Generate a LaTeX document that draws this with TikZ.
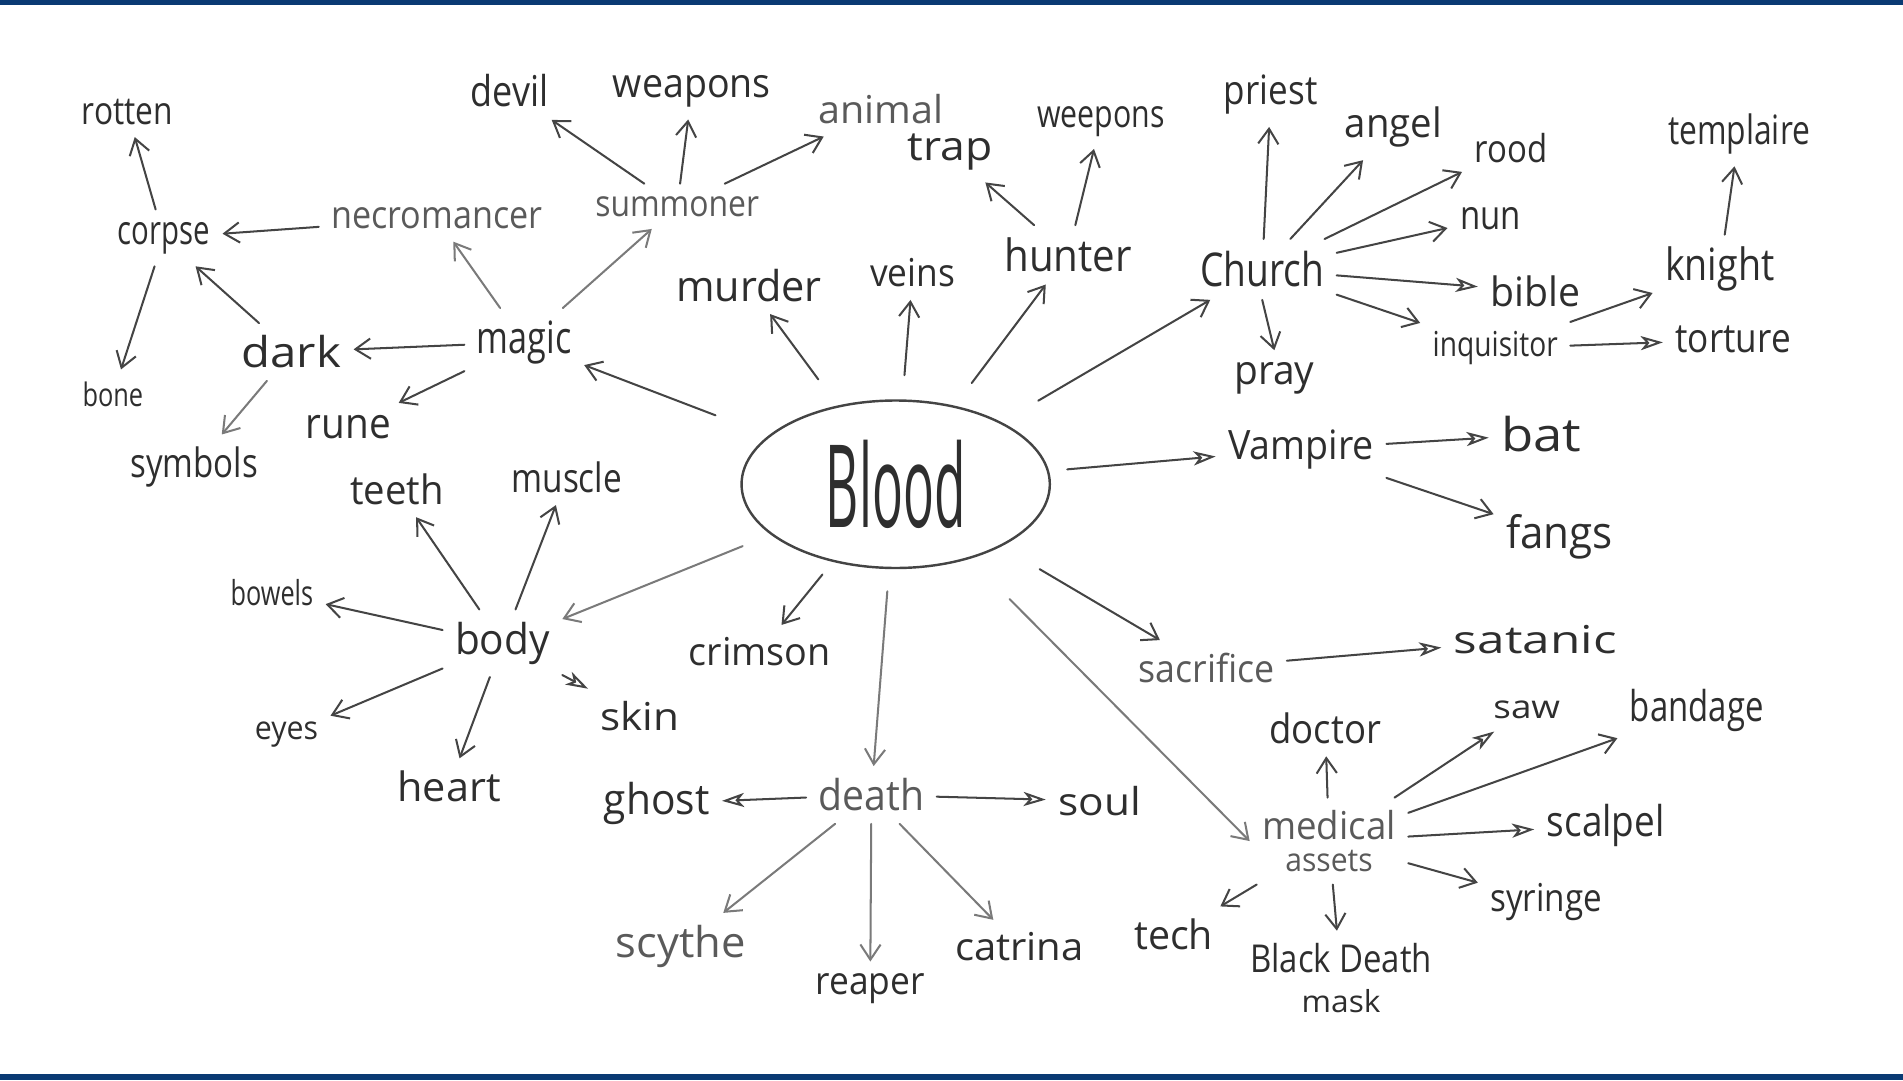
\documentclass[tikz,border=0pt]{standalone}
\usepackage{fontspec}
\setmainfont{Open Sans}
\usepackage{graphicx}
\usetikzlibrary{arrows.meta,shapes.geometric}
\newlength\pxu \setlength\pxu{0.6pt}
\newcommand\hw[3][19]{\resizebox{#2\pxu}{\height}{\fontsize{#1}{#1}\selectfont #3}}
\definecolor{navy}{RGB}{10,58,115}
\definecolor{ink}{HTML}{2E2E2E}
\definecolor{inkl}{HTML}{5A5A5A}
\definecolor{ln}{HTML}{444444}
\definecolor{lnl}{HTML}{7A7A7A}
\begin{document}
\begin{tikzpicture}[x=0.6pt,y=-0.6pt,
  wd/.style={text=ink, inner sep=6pt},
  lwd/.style={text=inkl, inner sep=6pt},
  arr/.style={draw=ln, line width=1pt, line cap=round, -{Straight Barb[length=7.5pt,width=10pt]}},
  larr/.style={arr, draw=lnl},
  dbl/.style={draw=ln, line width=1pt, line cap=round, -{Stealth[open,length=11pt,width=7pt,inset=3pt]}}]
\useasboundingbox (0,0) rectangle (1568,890);
\fill[navy] (0,0) rectangle (1568,4.5);
\fill[navy] (0,885) rectangle (1568,890);

% centre
\node[ellipse, draw=ln, line width=1.2pt, minimum width=152.4pt, minimum height=82.8pt, inner sep=0pt, text=ink] (blood) at (738,399) {\resizebox{115\pxu}{72\pxu}{Blood}};

% left cluster
\node[wd] (rotten) at (105,92) {\hw{75}{rotten}};
\node[wd] (corpse) at (135,196) {\hw[20]{76}{corpse}};
\node[wd] (bone) at (93,325) {\hw[16]{50}{bone}};
\node[wd] (dark) at (240,290) {\hw[21]{82}{dark}};
\node[wd] (symbols) at (160,385) {\hw[20]{105}{symbols}};
\node[lwd] (necro) at (360,180) {\hw{174}{necromancer}};
\node[wd] (magic) at (432,282) {\hw[22]{78}{magic}};
\node[wd] (rune) at (287,352) {\hw[21]{70}{rune}};
\node[wd] (devil) at (420,75) {\hw[21]{64}{devil}};
\node[wd] (weapons) at (570,75) {\hw[20]{130}{weapons}};
\node[lwd] (summoner) at (558,170) {\hw[18]{135}{summoner}};
\node[lwd] (animal) at (726,90) {\hw{103}{animal}};

% top
\node[wd] (murder) at (617,235) {\hw[21]{120}{murder}};
\node[wd] (veins) at (752,225) {\hw{70}{veins}};
\node[wd] (trap) at (783,125) {\hw[20]{70}{trap}};
\node[wd] (weepons) at (907,100) {\hw{105}{weepons}};
\node[wd] (hunter) at (880,210) {\hw[22]{105}{hunter}};

% church cluster
\node[wd] (priest) at (1047,78) {\hw[20]{77}{priest}};
\node[wd] (angel) at (1148,105) {\hw[20]{80}{angel}};
\node[wd] (rood) at (1245,122) {\hw{60}{rood}};
\node[wd] (nun) at (1228,180) {\hw[20]{50}{nun}};
\node[wd] (church) at (1040,222) {\hw[23]{102}{Church}};
\node[wd] (bible) at (1265,240) {\hw[20]{74}{bible}};
\node[wd] (pray) at (1050,312) {\hw[20]{66}{pray}};
\node[wd] (inquisitor) at (1232,287) {\hw[17]{103}{inquisitor}};
\node[wd] (knight) at (1417,222) {\hw[22]{90}{knight}};
\node[wd] (templaire) at (1433,110) {\hw[20]{117}{templaire}};
\node[wd] (torture) at (1428,280) {\hw[20]{95}{torture}};

% vampire
\node[wd] (vampire) at (1072,370) {\hw[20]{120}{Vampire}};
\node[wd] (bat) at (1270,358) {\hw[23]{66}{bat}};
\node[wd] (fangs) at (1285,442) {\hw[22]{88}{fangs}};

% sacrifice / medical
\node[lwd] (sacrifice) at (994,550) {\hw{112}{sacrifice}};
\node[wd] (satanic) at (1265,527) {\hw[19]{134}{satanic}};
\node[wd] (medical) at (1095,693) [align=center, text=inkl, font=\fontsize{16}{16}\selectfont] {\hw{110}{medical}\\\hw[16]{72}{assets}};
\node[wd] (doctor) at (1092,600) {\hw[20]{92}{doctor}};
\node[wd] (saw) at (1258,585) {\hw[16]{55}{saw}};
\node[wd] (bandage) at (1398,585) {\hw[21]{110}{bandage}};
\node[wd] (scalpel) at (1323,680) {\hw[21]{97}{scalpel}};
\node[wd] (syringe) at (1274,743) {\hw[19]{92}{syringe}};
\node[wd] (tech) at (967,770) {\hw[20]{65}{tech}};
\node[wd, align=center, font=\fontsize{20}{20}\selectfont] (blackdeath) at (1105,806) {\hw[19]{150}{Black Death}\\\hw[15]{65}{mask}};

% body
\node[wd] (teeth) at (327,403) {\hw[20]{77}{teeth}};
\node[wd] (muscle) at (467,393) {\hw[20]{91}{muscle}};
\node[wd] (bowels) at (224,488) {\hw[17]{68}{bowels}};
\node[wd] (body) at (414,530) {\hw[21]{78}{body}};
\node[wd] (skin) at (527,590) {\hw[19]{65}{skin}};
\node[wd] (eyes) at (236,605) {\hw[16]{52}{eyes}};
\node[wd] (heart) at (370,648) {\hw[20]{85}{heart}};
\node[wd] (crimson) at (626,537) {\hw{117}{crimson}};

% death
\node[wd] (ghost) at (541,662) {\hw[21]{87}{ghost}};
\node[lwd] (death) at (718,655) {\hw[21]{87}{death}};
\node[wd] (soul) at (906,660) {\hw{68}{soul}};
\node[lwd] (scythe) at (561,780) {\hw[21]{107}{scythe}};
\node[wd] (reaper) at (717,815) {\hw[19]{90}{reaper}};
\node[wd] (catrina) at (840,780) {\hw{106}{catrina}};

% ---- connectors from centre
\draw[arr, shorten <=28pt] (blood) -- (magic);
\draw[arr, shorten <=16pt] (blood) -- (murder);
\draw[arr, shorten <=12pt] (blood) -- (veins);
\draw[arr, shorten <=14pt] (blood) -- (hunter);
\draw[arr, shorten <=21pt] (blood) -- (church);
\draw[dbl, shorten <=9pt] (blood) -- (vampire);
\draw[arr, shorten <=22pt] (blood) -- (sacrifice);
\draw[larr, shorten <=28pt] (blood) -- (medical.west);
\draw[larr, shorten <=11pt] (blood) -- (death);
\draw[arr, shorten <=8pt] (blood) -- (crimson);
\draw[larr, shorten <=15pt] (blood) -- (body);

% left cluster
\draw[arr] (corpse) -- (rotten);
\draw[arr] (necro) -- (corpse);
\draw[arr] (corpse) -- (bone);
\draw[arr] (dark) -- (corpse);
\draw[arr] (magic) -- (dark);
\draw[larr] (dark) -- (symbols);
\draw[larr] (magic) -- (necro);
\draw[arr] (magic) -- (rune);
\draw[larr] (magic) -- (summoner);
\draw[arr] (summoner) -- (devil);
\draw[arr] (summoner) -- (weapons);
\draw[arr] (summoner) -- (animal);

% hunter
\draw[arr] (hunter) -- (trap);
\draw[arr] (hunter) -- (weepons);

% church
\draw[arr] (church) -- (priest);
\draw[arr] (church) -- (angel);
\draw[arr] (church) -- (rood);
\draw[arr] (church) -- (nun);
\draw[dbl] (church) -- (bible);
\draw[arr] (church.south) -- (pray.north);
\draw[arr] (church) -- (inquisitor);
\draw[arr] (inquisitor) -- (knight);
\draw[arr] (knight) -- (templaire);
\draw[dbl] (inquisitor) -- (torture);

% vampire
\draw[dbl] (vampire) -- (bat);
\draw[arr] (vampire) -- (fangs);

% sacrifice, medical
\draw[dbl] (sacrifice) -- (satanic);
\draw[arr] (medical) -- (doctor);
\draw[dbl] (medical) -- (saw);
\draw[arr] (medical) -- (bandage);
\draw[dbl] (medical) -- (scalpel);
\draw[arr] (medical) -- (syringe);
\draw[arr] (medical) -- (tech);
\draw[arr] (medical) -- (blackdeath);

% body
\draw[arr] (body) -- (teeth);
\draw[arr] (body) -- (muscle);
\draw[arr] (body) -- (bowels);
\draw[dbl] (body) -- (skin);
\draw[arr] (body) -- (eyes);
\draw[arr] (body) -- (heart);

% death
\draw[dbl] (death) -- (ghost);
\draw[dbl] (death) -- (soul);
\draw[larr] (death) -- (scythe);
\draw[larr] (death) -- (reaper);
\draw[larr] (death) -- (catrina);
\end{tikzpicture}
\end{document}
